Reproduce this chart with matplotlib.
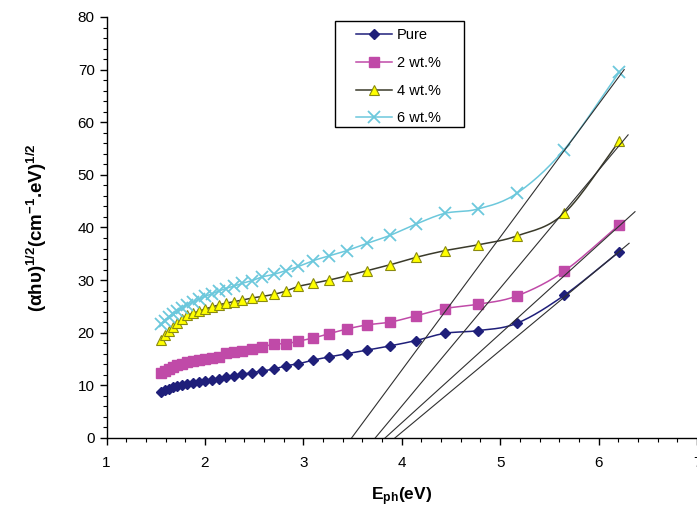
import numpy as np
import matplotlib
matplotlib.use('Agg')
import matplotlib.pyplot as plt
from matplotlib.ticker import MultipleLocator
from matplotlib.patches import Rectangle

plt.rcParams['font.family'] = ['Liberation Sans', 'DejaVu Sans']
plt.rcParams['mathtext.default'] = 'regular'

# photon energy (eV)
energy = [1.55, 1.59, 1.63, 1.68, 1.72, 1.77, 1.82, 1.88, 1.94, 2.00, 2.07,
          2.14, 2.21, 2.30, 2.38, 2.48, 2.58, 2.70, 2.82, 2.95, 3.10, 3.26,
          3.44, 3.65, 3.88, 4.14, 4.44, 4.77, 5.17, 5.65, 6.21]

pure = [8.8, 9.1, 9.3, 9.6, 9.8, 10.0, 10.3, 10.5, 10.7, 10.9, 11.1,
        11.3, 11.6, 11.8, 12.1, 12.4, 12.7, 13.1, 13.7, 14.1, 14.8, 15.4,
        16.0, 16.7, 17.5, 18.5, 19.9, 20.4, 21.8, 27.1, 35.4]
wt2 = [12.3, 12.8, 13.2, 13.5, 13.8, 14.1, 14.4, 14.6, 14.8, 15.0, 15.2,
       15.4, 16.2, 16.4, 16.6, 16.9, 17.2, 17.9, 17.9, 18.4, 19.0, 19.8,
       20.7, 21.5, 22.0, 23.2, 24.6, 25.4, 27.0, 31.7, 40.5]
wt4 = [18.6, 19.5, 20.3, 21.1, 21.9, 22.6, 23.3, 23.7, 24.1, 24.5, 24.9,
       25.3, 25.6, 25.9, 26.2, 26.6, 26.9, 27.3, 27.9, 28.8, 29.4, 30.0,
       30.8, 31.8, 32.9, 34.3, 35.6, 36.7, 38.4, 42.7, 56.4]
wt6 = [21.6, 22.3, 22.9, 23.5, 24.1, 24.7, 25.3, 25.8, 26.4, 26.9, 27.4,
       27.9, 28.4, 28.9, 29.4, 29.9, 30.6, 31.1, 31.8, 32.6, 33.7, 34.6,
       35.6, 37.0, 38.5, 40.6, 42.7, 43.5, 46.5, 54.8, 69.5]

labels = ['Pure', '2 wt.%', '4 wt.%', '6 wt.%']

# linear extrapolation lines: x-intercept and upper end point
fit_x0 = [3.93, 3.83, 3.73, 3.49]
fit_x1 = [6.31, 6.37, 6.30, 6.26]
fit_y1 = [37.0, 43.0, 57.6, 70.0]


def smooth(x, y, n=16):
    # Catmull-Rom curve through the points, like a smoothed Excel line
    p = np.column_stack([x, y]).astype(float)
    p = np.vstack([2 * p[0] - p[1], p, 2 * p[-1] - p[-2]])
    t = np.linspace(0, 1, n)[:, None]
    out = []
    for i in range(1, len(p) - 2):
        p0, p1, p2, p3 = p[i - 1], p[i], p[i + 1], p[i + 2]
        seg = 0.5 * ((2 * p1) + (-p0 + p2) * t
                     + (2 * p0 - 5 * p1 + 4 * p2 - p3) * t ** 2
                     + (-p0 + 3 * p1 - 3 * p2 + p3) * t ** 3)
        out.append(seg if i == 1 else seg[1:])
    out = np.vstack(out)
    return out[:, 0], out[:, 1]


fig = plt.figure(figsize=(6.97, 5.13), dpi=100)
ax = fig.add_axes([0.1528, 0.1462, 0.8472, 0.8207])

styles = [
    dict(color='#1f1f7a', marker='D', ms=5.5, mfc='#1f1f7a', mec='#1f1f7a'),
    dict(color='#c04aa8', marker='s', ms=7, mfc='#c04aa8', mec='#c04aa8'),
    dict(color='#3a3a2a', marker='^', ms=7.5, mfc='#ffff00', mec='#8a8a10', mew=0.8),
    dict(color='#6cc8dc', marker='x', ms=8, mfc='#6cc8dc', mec='#6cc8dc', mew=1.3),
]

for ys, lab, st in zip([pure, wt2, wt4, wt6], labels, styles):
    sx, sy = smooth(energy, ys)
    ax.plot(sx, sy, color=st['color'], lw=1.1, zorder=2)
    ax.plot(energy, ys, ls='none', zorder=3,
            **{k: v for k, v in st.items() if k != 'color'})
    ax.plot([], [], color=st['color'], lw=1.1, label=lab,
            **{k: v for k, v in st.items() if k != 'color'})

for x0, x1, y1 in zip(fit_x0, fit_x1, fit_y1):
    ax.plot([x0, x1], [0, y1], color='#303030', lw=0.8, zorder=4)

ax.set_xlim(1, 7)
ax.set_ylim(0, 80)
ax.xaxis.set_major_locator(MultipleLocator(1))
ax.xaxis.set_minor_locator(MultipleLocator(0.2))
ax.yaxis.set_major_locator(MultipleLocator(10))
ax.yaxis.set_minor_locator(MultipleLocator(2))
ax.tick_params(which='major', direction='out', length=5, width=1, labelsize=11,
               colors='black')
ax.tick_params(which='minor', direction='out', length=3, width=0.8)
ax.tick_params(axis='x', pad=8)
ax.spines['top'].set_visible(False)
ax.spines['right'].set_visible(False)
for s in ['left', 'bottom']:
    ax.spines[s].set_linewidth(1)

ax.set_xlabel('E$_{ph}$(eV)', fontsize=12.5, fontweight='bold', labelpad=11)
ax.set_ylabel('(αhυ)$^{1/2}$(cm$^{-1}$.eV)$^{1/2}$', fontsize=13.5,
              fontweight='bold', labelpad=21)

# legend box drawn separately so its padding matches the original
ax.add_patch(Rectangle((0.387, 0.7387), 0.2183, 0.2518, transform=ax.transAxes,
                       facecolor='white', edgecolor='black', lw=1, zorder=5,
                       clip_on=False))
leg = ax.legend(loc='upper left', bbox_to_anchor=(0.4225, 0.974), borderaxespad=0,
                fontsize=10.5, frameon=False, handlelength=2.45,
                labelspacing=0.95, borderpad=0, handletextpad=0.35)
leg.set_zorder(6)

plt.savefig('out.png', dpi=100)
